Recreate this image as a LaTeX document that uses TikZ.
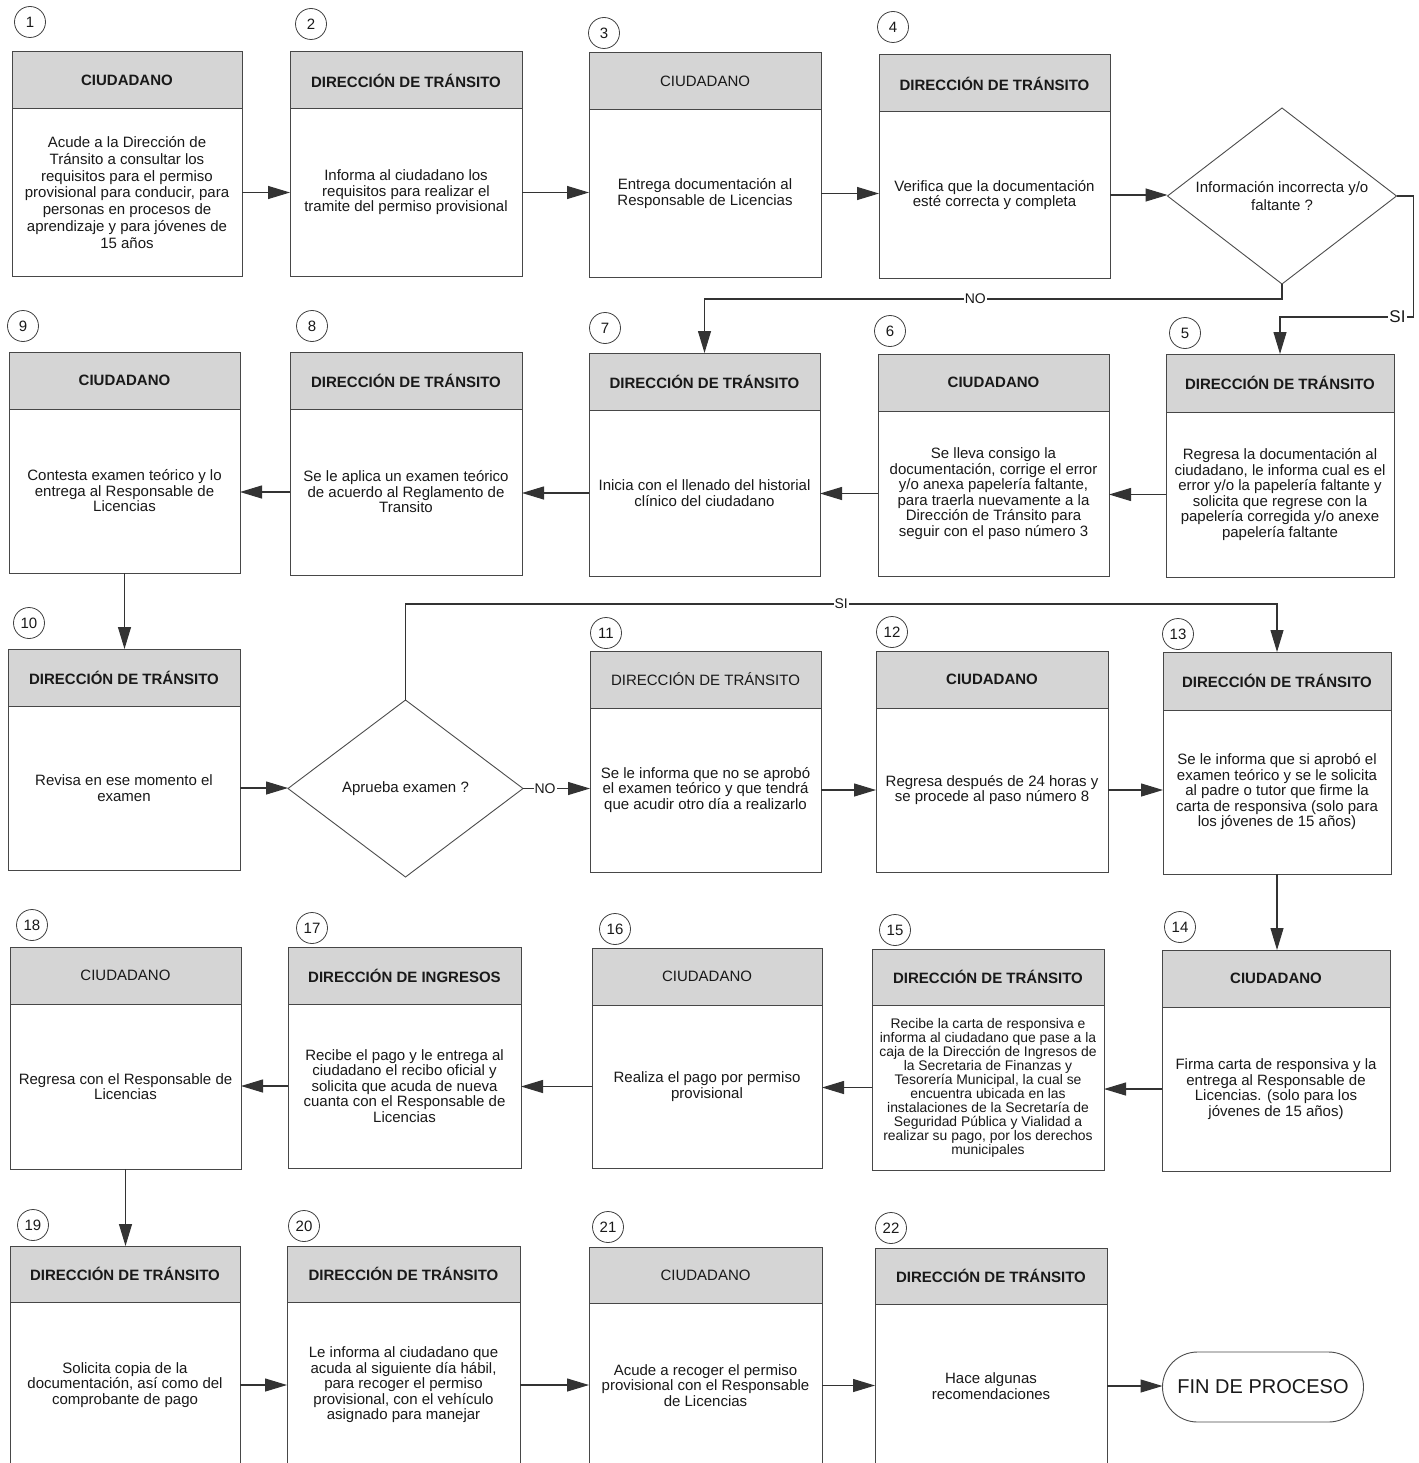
\documentclass[tikz,border=0pt]{standalone}
\usepackage{fontspec}
\setmainfont{Liberation Sans}
\usetikzlibrary{arrows.meta,shapes.geometric,calc}

% One process step: grey title band above a white description box.
% #1 name, #2 left, #3 top, #4 right, #5 bottom, #6 title band bottom,
% #7 title, #8 description, #9 extra options for the description box
\newcommand\stepcard[9]{%
  \node[cardhead, minimum width={(#4-#2)*1pt}, minimum height={(#6-#3)*1pt},
        anchor=north west] (#1h) at (#2,#3) {#7};
  \node[cardbody, minimum width={(#4-#2)*1pt}, minimum height={(#5-#6)*1pt},
        anchor=north west, #9] (#1) at (#2,#6) {#8};
}

\begin{document}
\begin{tikzpicture}[x=1pt,y=-1pt,
  cardhead/.style={draw=black!72, line width=1pt, fill=gray!33, outer sep=0pt,
    inner sep=0pt, font=\fontsize{15}{17}\selectfont\bfseries, text=black!90},
  cardbody/.style={draw=black!72, line width=1pt, fill=white, outer sep=0pt,
    inner sep=2pt, align=center, font=\fontsize{15}{15.5}\selectfont, text=black!90},
  stepnum/.style={draw=black!75, circle, line width=0.8pt, minimum size=31pt,
    inner sep=0pt, font=\fontsize{15}{15}\selectfont, text=black!90},
  decision/.style={draw=black!70, line width=0.9pt, diamond, inner sep=0pt,
    outer sep=0pt, align=center, font=\fontsize{15}{18}\selectfont, text=black!90},
  endstate/.style={draw=black!70, line width=0.9pt, rectangle, rounded corners=35pt,
    minimum width=201pt, minimum height=70pt, outer sep=0pt,
    font=\fontsize{20}{20}\selectfont, text=black!90},
  flow/.style={draw=black!80, line width=1.1pt, -{Triangle[length=22pt,width=13pt]}},
  branch/.style={fill=white, inner sep=1pt, font=\fontsize{14}{14}\selectfont, text=black!90},
]
\useasboundingbox (0,0) rectangle (1418,1463);
\fill[white] (0,0) rectangle (1418,1463);
\clip (0,0) rectangle (1418,1463);

% ---------- row 1 ----------
\stepcard{b1}{12}{52}{242}{276}{109}{CIUDADANO}
  {Acude a la Dirección de\\Tránsito a consultar los\\requisitos para el permiso\\provisional para conducir, para\\personas en procesos de\\aprendizaje y para jóvenes de\\15 años}
  {font=\fontsize{15}{16.7}\selectfont}
\stepcard{b2}{290}{52}{522}{276}{109}{DIRECCIÓN DE TRÁNSITO}
  {Informa al ciudadano los\\requisitos para realizar el\\tramite del permiso provisional}{}
\stepcard{b3}{589}{53}{821}{277}{110}{\mdseries CIUDADANO}
  {Entrega documentación al\\Responsable de Licencias}{}
\stepcard{b4}{879}{55}{1110}{278}{112}{DIRECCIÓN DE TRÁNSITO}
  {Verifica que la documentación\\esté correcta y completa}{}
\node[decision, aspect=1.3, minimum width=229pt, minimum height=176pt] (d1) at (1282,196)
  {Información incorrecta y/o\\faltante ?};

\node[stepnum] (n1) at (30,22) {1};
\node[stepnum] (n2) at (311,24) {2};
\node[stepnum] (n3) at (604,33) {3};
\node[stepnum] (n4) at (893,27) {4};

% ---------- row 2 ----------
\stepcard{b9}{9}{352}{240}{573}{409}{CIUDADANO}
  {Contesta examen teórico y lo\\entrega al Responsable de\\Licencias}{}
\stepcard{b8}{290}{352}{522}{575}{409}{DIRECCIÓN DE TRÁNSITO}
  {Se le aplica un examen teórico\\de acuerdo al Reglamento de\\Transito}{}
\stepcard{b7}{589}{353}{820}{576}{410}{DIRECCIÓN DE TRÁNSITO}
  {Inicia con el llenado del historial\\clínico del ciudadano}{}
\stepcard{b6}{878}{354}{1109}{576}{411}{CIUDADANO}
  {Se lleva consigo la\\documentación, corrige el error\\y/o anexa papelería faltante,\\para traerla nuevamente a la\\Dirección de Tránsito para\\seguir con el paso número 3}{}
\stepcard{b5}{1166}{354}{1394}{577}{412}{DIRECCIÓN DE TRÁNSITO}
  {Regresa la documentación al\\ciudadano, le informa cual es el\\error y/o la papelería faltante y\\solicita que regrese con la\\papelería corregida y/o anexe\\papelería faltante}{}

\node[stepnum] (n9) at (23,326) {9};
\node[stepnum] (n8) at (312,326) {8};
\node[stepnum] (n7) at (605,328) {7};
\node[stepnum] (n6) at (890,331) {6};
\node[stepnum] (n5) at (1185,333) {5};

% ---------- row 3 ----------
\stepcard{b10}{8}{649}{240}{870}{706}{DIRECCIÓN DE TRÁNSITO}
  {Revisa en ese momento el\\examen}{}
\node[decision, aspect=1.33, minimum width=235pt, minimum height=177pt] (d2) at (405.5,788.5)
  {Aprueba examen ?};
\stepcard{b11}{590}{651}{821}{872}{708}{\mdseries DIRECCIÓN DE TRÁNSITO}
  {Se le informa que no se aprobó\\el examen teórico y que tendrá\\que acudir otro día a realizarlo}{}
\stepcard{b12}{876}{651}{1108}{872}{708}{CIUDADANO}
  {Regresa después de 24 horas y\\se procede al paso número 8}{}
\stepcard{b13}{1163}{652}{1391}{874}{710}{DIRECCIÓN DE TRÁNSITO}
  {Se le informa que si aprobó el\\examen teórico y se le solicita\\al padre o tutor que firme la\\carta de responsiva (solo para\\los jóvenes de 15 años)}{}

\node[stepnum] (n10) at (29,623) {10};
\node[stepnum] (n11) at (606,633) {11};
\node[stepnum] (n12) at (892,632) {12};
\node[stepnum] (n13) at (1178,634) {13};

% ---------- row 4 ----------
\stepcard{b18}{10}{947}{241}{1169}{1004}{\mdseries CIUDADANO}
  {Regresa con el Responsable de\\Licencias}{}
\stepcard{b17}{288}{947}{521}{1168}{1004}{DIRECCIÓN DE INGRESOS}
  {Recibe el pago y le entrega al\\ciudadano el recibo oficial y\\solicita que acuda de nueva\\cuanta con el Responsable de\\Licencias}{}
\stepcard{b16}{592}{948}{822}{1168}{1005}{\mdseries CIUDADANO}
  {Realiza el pago por permiso\\provisional}{}
\stepcard{b15}{872}{949}{1104}{1170}{1005}{DIRECCIÓN DE TRÁNSITO}
  {Recibe la carta de responsiva e\\informa al ciudadano que pase a la\\caja de la Dirección de Ingresos de\\la Secretaria de Finanzas y\\Tesorería Municipal, la cual se\\encuentra ubicada en las\\instalaciones de la Secretaría de\\Seguridad Pública y Vialidad a\\realizar su pago, por los derechos\\municipales}
  {font=\fontsize{13.9}{14}\selectfont}
\stepcard{b14}{1162}{950}{1390}{1171}{1007}{CIUDADANO}
  {Firma carta de responsiva y la\\entrega al Responsable de\\Licencias. (solo para los\\jóvenes de 15 años)}{}

\node[stepnum] (n18) at (32,925) {18};
\node[stepnum] (n17) at (312,928) {17};
\node[stepnum] (n16) at (615,929) {16};
\node[stepnum] (n15) at (895,930) {15};
\node[stepnum] (n14) at (1180,927) {14};

% ---------- row 5 ----------
\stepcard{b19}{10}{1246}{240}{1468}{1302}{DIRECCIÓN DE TRÁNSITO}
  {Solicita copia de la\\documentación, así como del\\comprobante de pago}{}
\stepcard{b20}{287}{1246}{520}{1468}{1302}{DIRECCIÓN DE TRÁNSITO}
  {Le informa al ciudadano que\\acuda al siguiente día hábil,\\para recoger el permiso\\provisional, con el vehículo\\asignado para manejar}{}
\stepcard{b21}{589}{1247}{822}{1468}{1303}{\mdseries CIUDADANO}
  {Acude a recoger el permiso\\provisional con el Responsable\\de Licencias}{}
\stepcard{b22}{875}{1248}{1107}{1468}{1304}{DIRECCIÓN DE TRÁNSITO}
  {Hace algunas\\recomendaciones}{}
\node[endstate] (fin) at (1263,1387) {FIN DE PROCESO};

\node[stepnum] (n19) at (33,1225) {19};
\node[stepnum] (n20) at (304,1226) {20};
\node[stepnum] (n21) at (608,1227) {21};
\node[stepnum] (n22) at (891,1228) {22};

% ---------- connectors ----------
\draw[flow] (b1.east) -- (b1.east -| b2.west);
\draw[flow] (b2.east) -- (b2.east -| b3.west);
\draw[flow] (b3.east) -- (b3.east -| b4.west);
\draw[flow] (b4.east) -- (b4.east -| d1.west);
\draw[flow] (d1.south) -- ++(0,15) coordinate (nA)
  -- node[branch, pos=0.531] {NO} (nA -| b7h.north) -- (b7h.north);
\draw[flow] (d1.east) -- ++(17,0) -- ++(0,121) coordinate (sA)
  -- node[branch, pos=0.12, font=\fontsize{17}{17}\selectfont] {SI} (sA -| b5h.north) -- (b5h.north);

\draw[flow] (b5.west) -- (b5.west -| b6.east);
\draw[flow] (b6.west) -- (b6.west -| b7.east);
\draw[flow] (b7.west) -- (b7.west -| b8.east);
\draw[flow] (b8.west) -- (b8.west -| b9.east);
\draw[flow] (b9.south) -- (b9.south |- b10h.north);

\draw[flow] (b10.east) -- (b10.east -| d2.west);
\draw[flow] (d2.east) -- node[branch, pos=0.33] {NO} (d2.east -| b11.west);
\draw[flow] (d2.north) -- ++(0,-96) coordinate (sB)
  -- node[branch, pos=0.5] {SI} (sB -| b13h.north) -- (b13h.north);
\draw[flow] (b11.east) -- (b11.east -| b12.west);
\draw[flow] (b12.east) -- (b12.east -| b13.west);
\draw[flow] (b13.south) -- (b13.south |- b14h.north);

\draw[flow] (b14.west) -- (b14.west -| b15.east);
\draw[flow] (b15.west) -- (b15.west -| b16.east);
\draw[flow] (b16.west) -- (b16.west -| b17.east);
\draw[flow] (b17.west) -- (b17.west -| b18.east);
\draw[flow] (b18.south) -- (b18.south |- b19h.north);

\draw[flow] (b19.east) -- (b19.east -| b20.west);
\draw[flow] (b20.east) -- (b20.east -| b21.west);
\draw[flow] (b21.east) -- (b21.east -| b22.west);
\draw[flow] (b22.east) -- (b22.east -| fin.west);
\end{tikzpicture}
\end{document}
